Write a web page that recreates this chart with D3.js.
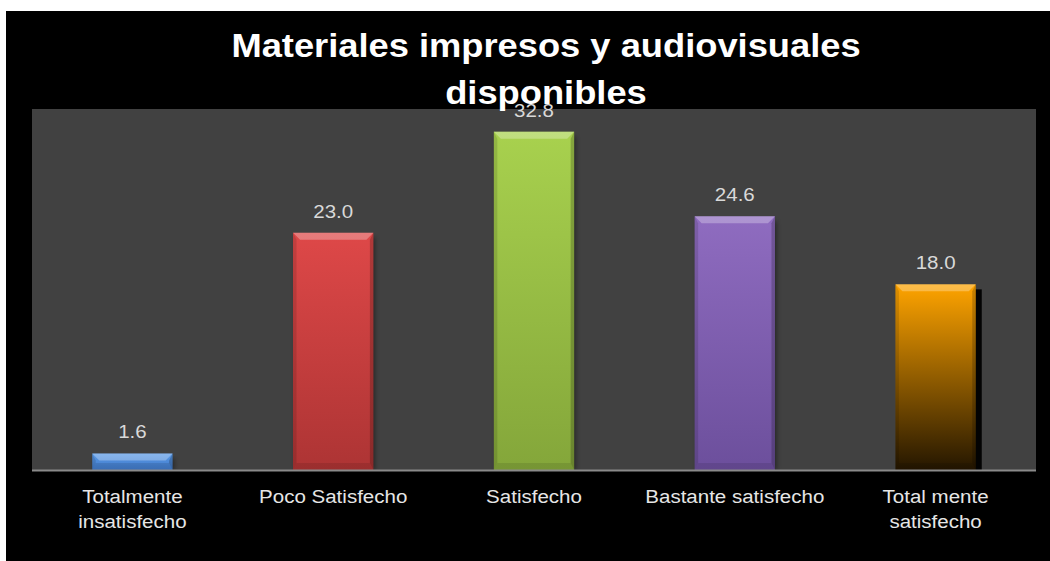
<!DOCTYPE html>
<html><head><meta charset="utf-8">
<script src="https://cdn.jsdelivr.net/npm/d3@7"></script>
<style>html,body{margin:0;padding:0;background:#fff;}svg{display:block;}</style>
</head><body>
<svg id="chart" width="1050" height="561"></svg>
<script>
// ---- data ----
const titleLines = ["Materiales impresos y audiovisuales", "disponibles"];
const categories = ["Totalmente insatisfecho", "Poco Satisfecho", "Satisfecho", "Bastante satisfecho", "Total mente satisfecho"];
const categoryLines = [["Totalmente", "insatisfecho"], ["Poco Satisfecho"], ["Satisfecho"], ["Bastante satisfecho"], ["Total mente", "satisfecho"]];
const values = [1.6, 23.0, 32.8, 24.6, 18.0];
const colorsTop = ["#5b9be8", "#de4848", "#a8d14e", "#8f6cc0", "#ffa400"];
const colorsBottom = ["#4079c9", "#ad3434", "#84a63a", "#6c4f9c", "#241600"];

const svg = d3.select("#chart");
const W = 1050, H = 561;
svg.append("rect").attr("x", 0).attr("y", 0).attr("width", W).attr("height", H).attr("fill", "#fff");
svg.append("rect").attr("x", 6).attr("y", 11).attr("width", W - 6).attr("height", H - 11).attr("fill", "#000");

const plot = {x0: 32, x1: 1036, y0: 109, y1: 470};
svg.append("rect").attr("x", plot.x0).attr("y", plot.y0).attr("width", plot.x1 - plot.x0).attr("height", plot.y1 - plot.y0).attr("fill", "#414141");

const x = d3.scaleBand().domain(categories).range([plot.x0, plot.x1]).paddingInner(0.6).paddingOuter(0.3);
const y = d3.scaleLinear().domain([0, 35]).range([plot.y1, plot.y0]);

const defs = svg.append("defs");
categories.forEach((c, i) => {
  const g = defs.append("linearGradient").attr("id", "g" + i).attr("x1", 0).attr("y1", 0).attr("x2", 0).attr("y2", 1);
  g.append("stop").attr("offset", "0%").attr("stop-color", colorsTop[i]);
  g.append("stop").attr("offset", "100%").attr("stop-color", colorsBottom[i]);
});
const blur = defs.append("filter").attr("id", "blur").attr("x", "-20%").attr("y", "-20%").attr("width", "140%").attr("height", "140%");
blur.append("feGaussianBlur").attr("stdDeviation", 2);

const bars = svg.append("g");
categories.forEach((c, i) => {
  const bx = x(c), bw = x.bandwidth();
  const by = y(values[i]), bh = y(0) - y(values[i]);
  const g = bars.append("g");
  // shadow
  g.append("rect").attr("x", bx + (i === 4 ? 6 : 2)).attr("y", by + 5).attr("width", bw).attr("height", Math.max(0, bh - 5))
    .attr("fill", "#000").attr("opacity", i === 4 ? 0.95 : 0.35).attr("filter", i === 4 ? null : "url(#blur)");
  g.append("rect").attr("x", bx).attr("y", by).attr("width", bw).attr("height", bh).attr("fill", "url(#g" + i + ")");
  const b = Math.min(7, bh / 2);
  // top bevel
  g.append("polygon").attr("points", [[bx, by], [bx + bw, by], [bx + bw - b, by + b], [bx + b, by + b]].join(" "))
    .attr("fill", "#fff").attr("opacity", 0.28);
  // left bevel
  g.append("polygon").attr("points", [[bx, by], [bx + b * 0.5, by + b], [bx + b * 0.5, by + bh - b], [bx, by + bh]].join(" "))
    .attr("fill", "#000").attr("opacity", 0.12);
  // right bevel
  g.append("polygon").attr("points", [[bx + bw, by], [bx + bw - b * 0.5, by + b], [bx + bw - b * 0.5, by + bh - b], [bx + bw, by + bh]].join(" "))
    .attr("fill", "#000").attr("opacity", 0.2);
  // bottom bevel
  g.append("polygon").attr("points", [[bx, by + bh], [bx + b * 0.5, by + bh - b], [bx + bw - b * 0.5, by + bh - b], [bx + bw, by + bh]].join(" "))
    .attr("fill", "#000").attr("opacity", 0.1);
});

// baseline
svg.append("line").attr("x1", plot.x0).attr("x2", plot.x1).attr("y1", y(0) + 0.5).attr("y2", y(0) + 0.5)
  .attr("stroke", "#8a8a8a").attr("stroke-width", 2);

// value labels
categories.forEach((c, i) => {
  const cx = x(c) + x.bandwidth() / 2;
  svg.append("text").attr("transform", `translate(${cx},${y(values[i]) - 15}) scale(1.08,1)`)
    .attr("text-anchor", "middle").attr("font-family", "Liberation Sans, Arial, sans-serif")
    .attr("font-size", 19).attr("fill", "#d9d9d9").text(values[i].toFixed(1));
});

// category labels
categories.forEach((c, i) => {
  const cx = x(c) + x.bandwidth() / 2;
  categoryLines[i].forEach((ln, j) => {
    svg.append("text").attr("transform", `translate(${cx},${503 + j * 25}) scale(1.08,1)`)
      .attr("text-anchor", "middle").attr("font-family", "Liberation Sans, Arial, sans-serif")
      .attr("font-size", 19).attr("fill", "#e6e6e6").text(ln);
  });
});

// title
titleLines.forEach((t, j) => {
  svg.append("text").attr("transform", `translate(546,${57 + j * 47}) scale(1.1,1)`)
    .attr("text-anchor", "middle").attr("font-family", "Liberation Sans, Arial, sans-serif")
    .attr("font-weight", "bold").attr("font-size", 33).attr("fill", "#fff").text(t);
});
</script>
</body></html>
